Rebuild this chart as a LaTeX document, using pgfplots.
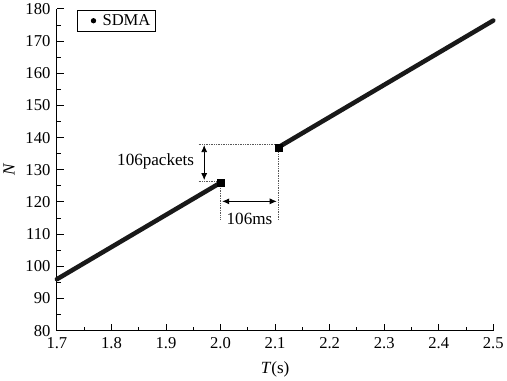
\documentclass[border=0pt]{standalone}
\usepackage{pgfplots}
\pgfplotsset{compat=1.18}
\usepackage{fontspec}
\setmainfont{Liberation Serif}
\usetikzlibrary{arrows.meta}
\begin{document}
\begin{tikzpicture}
\begin{axis}[
  scale only axis,
  width=434pt, height=320pt,
  xmin=1.7, xmax=2.5, ymin=80, ymax=180,
  axis x line*=bottom, axis y line*=left,
  axis line style={line width=1pt,-},
  xtick={1.7,1.8,...,2.5},
  xticklabels={1.7,1.8,1.9,2.0,2.1,2.2,2.3,2.4,2.5},
  ytick={80,90,...,180},
  minor x tick num=1, minor y tick num=1,
  tick align=inside,
  major tick length=7pt, minor tick length=4pt,
  tick style={line width=1pt, black},
  /pgf/number format/assume math mode=true,
  ticklabel style={font=\fontsize{16.5}{18}\selectfont},
  xticklabel style={yshift=-3pt},
  yticklabel style={xshift=-3pt},
  label style={font=\fontsize{17}{19}\selectfont},
  xlabel={\textit{T}(s)},
  ylabel={\textit{N}},
  xlabel style={yshift=-6pt},
  ylabel style={yshift=4pt},
  legend style={at={(0.046,0.998)}, anchor=north west, draw=black, line width=0.8pt,
    font=\fontsize{16.5}{18}\selectfont, inner xsep=3pt, inner ysep=2.5pt},
  legend cell align=left,
  legend image code/.code={\path[draw=none,fill=none] (0pt,0pt) -- (20pt,0pt); \fill[black] (13pt,0pt) circle (2.2pt);},
  clip=false,
]
\addlegendimage{black}
\addlegendentry{SDMA}
% dotted guide lines
\addplot[densely dotted, line width=0.7pt, gray!70!black] coordinates {(1.96,138) (2.12,138)};
\addplot[densely dotted, line width=0.7pt, gray!70!black] coordinates {(1.96,126.5) (2.0,126.5)};
\addplot[densely dotted, line width=0.7pt, gray!70!black] coordinates {(2.0,126) (2.0,114.5)};
\addplot[densely dotted, line width=0.7pt, gray!70!black] coordinates {(2.106,137) (2.106,114.5)};
% arrows
\addplot[{Latex[length=7pt,width=6pt]}-{Latex[length=7pt,width=6pt]}, line width=0.8pt] coordinates {(1.97,137.7) (1.97,126.8)};
\addplot[{Latex[length=7pt,width=6pt]}-{Latex[length=7pt,width=6pt]}, line width=0.8pt] coordinates {(2.003,120.2) (2.103,120.2)};
% data
\addplot[line width=4.5pt, line cap=round, black!90] coordinates {(1.7,96) (2.0,126)};
\addplot[line width=4.5pt, line cap=round, black!90] coordinates {(2.106,137) (2.5,176.4)};
\addplot[only marks, mark=square*, mark size=3.5pt, black] coordinates {(2.0,126) (2.106,137)};
\node[font=\fontsize{17}{19}\selectfont, anchor=east] at (axis cs:1.958,132.5) {106packets};
\node[font=\fontsize{17}{19}\selectfont] at (axis cs:2.053,114.6) {106ms};
\end{axis}
\end{tikzpicture}
\end{document}
